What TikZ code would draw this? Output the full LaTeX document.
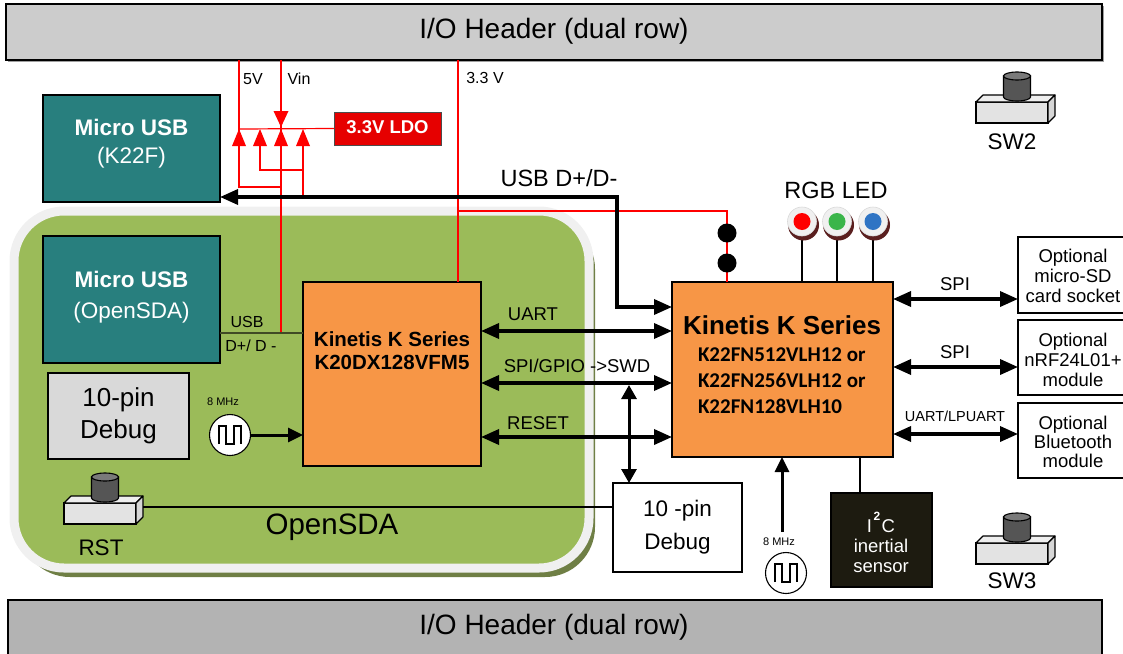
\documentclass[tikz,border=0pt]{standalone}
\usepackage{fontspec}
\setmainfont{Liberation Sans}
\newfontfamily\calfont{Carlito}
\usetikzlibrary{arrows.meta,calc}
\definecolor{hdrtop}{HTML}{CCCCCC}
\definecolor{hdrbot}{HTML}{B3B3B3}
\definecolor{usbteal}{HTML}{287F7E}
\definecolor{sdagreen}{HTML}{9BBB59}
\definecolor{sdashadow}{HTML}{6F7F45}
\definecolor{sdaborder}{HTML}{F0F0F0}
\definecolor{mcuorange}{HTML}{F79646}
\definecolor{ldored}{HTML}{E60000}
\definecolor{debuggray}{HTML}{D9D9D9}
\definecolor{sensorblack}{HTML}{1D1B10}
\definecolor{ledshadow}{HTML}{5A1F1F}
\definecolor{ledface}{HTML}{F0F0F0}
\definecolor{ledred}{HTML}{FF0000}
\definecolor{ledgreen}{HTML}{3AB54A}
\definecolor{ledblue}{HTML}{2F74C4}
\definecolor{usbline}{HTML}{404A25}
\definecolor{pwr}{HTML}{FF0000}
\definecolor{swfront}{HTML}{E3E3E3}
\definecolor{swtop}{HTML}{EEEEEE}
\definecolor{swside}{HTML}{D6D6D6}
\definecolor{capdark}{HTML}{555555}
\definecolor{captop}{HTML}{7A7A7A}
\newcommand\fsz[2]{\fontsize{#1}{#2}\selectfont}
\tikzset{
  pushbtn/.pic={
    \draw[line width=1.1pt, fill=swfront] (0,0) rectangle (72,21);
    \draw[line width=1.1pt, fill=swtop, line join=round] (0,0) -- (7,-7) -- (79,-7) -- (72,0) -- cycle;
    \draw[line width=1.1pt, fill=swside, line join=round] (72,0) -- (79,-7) -- (79,14) -- (72,21) -- cycle;
    \draw[line width=1.1pt, fill=capdark] (27.5,-26) -- (27.5,-5) arc[start angle=180, end angle=360, x radius=13.5pt, y radius=4pt] -- (54.5,-26) -- cycle;
    \draw[line width=1.1pt, fill=captop] (41,-26) ellipse[x radius=13.5pt, y radius=4pt];
  }
}
\begin{document}
\begin{tikzpicture}[x=1pt,y=-1pt,
  box/.style={draw, line width=1.3pt, inner sep=0pt, outer sep=0pt},
  txt/.style={inner sep=0pt, outer sep=0pt, align=center},
  bigarr/.style={line width=3.5pt, {Triangle[length=18pt,width=15pt]}-{Triangle[length=18pt,width=15pt]}},
  onearr/.style={line width=3pt, -{Triangle[length=15pt,width=14pt]}},
  pwrline/.style={draw=pwr, line width=1.2pt},
  osc/.style={draw, circle, line width=1.1pt, minimum size=41pt, inner sep=0pt, outer sep=0pt, fill=white},
  wave/.style={line width=1.1pt}
]
\useasboundingbox (0,0) rectangle (1123,653);

% ---------- headers
\fill[gray!75] (8,6) rectangle (1104,62);
\node[box, fill=hdrtop, minimum width=1096pt, minimum height=56pt] (hdrT) at (554,32) {};
\node[txt, font=\fsz{28}{30}] (hdrTt) at (554,31) {I/O Header (dual row)};
\node[box, fill=hdrbot, minimum width=1094pt, minimum height=60pt] (hdrB) at (555,630) {};
\node[txt, font=\fsz{28}{30}] (hdrBt) at (554,627) {I/O Header (dual row)};

% ---------- OpenSDA region
\fill[sdashadow, rounded corners=50pt] (20,219) rectangle (595,577);
\draw[draw=sdaborder, line width=9pt, fill=sdagreen, rounded corners=50pt] (14,211) rectangle (589,568);
\node[txt, font=\fsz{29.5}{32}] (sdalbl) at (332,527) {OpenSDA};

% ---------- power rails
\coordinate (r5v) at (239,60);
\coordinate (rvin) at (281,60);
\coordinate (r33) at (458,60);
\node[box, fill=ldored, draw=black!70, line width=1pt, minimum width=107pt, minimum height=33pt] (ldo) at (387.5,128.5) {};
\node[txt, font=\fsz{18.5}{20}\bfseries, text=white] (ldot) at (387.5,127.5) {3.3V LDO};
\draw[pwrline] (r5v) -- (239,187) -- (281,187);
\draw[pwrline] (rvin) -- (281,333);
\draw[pwrline] (239,129) -- (ldo.west);
\draw[pwrline] (260,146) -- (260,170) -- (303,170);
\draw[pwrline] (303,146) -- (303,197);
\fill[pwr] (273.5,111) -- (288.5,111) -- (281,127) -- cycle;
\foreach \tx in {239,260,281,303}{
  \fill[pwr] (\tx-7,146) -- (\tx+7,146) -- (\tx,129) -- cycle;
}
\node[txt, font=\fsz{16}{18}] (l5v) at (253,79) {5V};
\node[txt, font=\fsz{16}{18}] (lvin) at (299,79) {Vin};
\node[txt, font=\fsz{16}{18}] (l33) at (485,78) {3.3 V};

% ---------- boxes
\node[box, fill=usbteal, minimum width=177pt, minimum height=107pt] (mu1) at (131.5,148.5) {};
\node[txt, text=white, font=\fsz{22.5}{28}] (mu1t) at (131.5,144) {\bfseries Micro USB\\(K22F)};
\node[box, fill=usbteal, minimum width=177pt, minimum height=127pt] (mu2) at (131.5,299.5) {};
\node[txt, text=white, font=\fsz{22.5}{31}] (mu2t) at (131.5,297) {\bfseries Micro USB\\(OpenSDA)};
\node[box, fill=debuggray, minimum width=141pt, minimum height=86pt] (dbg1) at (118.5,416) {};
\node[txt, font=\fsz{26}{32}] (dbg1t) at (118.5,416) {10-pin\\Debug};
\node[box, fill=mcuorange, minimum width=178pt, minimum height=184pt] (k20) at (392,374) {};
\node[txt, font=\fsz{20.5}{23}\bfseries] (k20t) at (392,351) {Kinetis K Series\\K20DX128VFM5};
\node[box, fill=mcuorange, minimum width=221pt, minimum height=175pt] (k22) at (782.5,369.5) {};
\node[txt, font=\fsz{26}{28}\bfseries] (k22t) at (782,325) {Kinetis K Series};
\node[txt, anchor=west, align=left, font={\calfont\bfseries\fsz{21}{26}}] (k22p) at (698,381) {K22FN512VLH12 or\\K22FN256VLH12 or\\K22FN128VLH10};
\node[box, fill=white, minimum width=129pt, minimum height=89pt] (dbg2) at (677.5,527.5) {};
\node[txt, font=\fsz{22.5}{33}] (dbg2t) at (677.5,527) {10 -pin\\Debug};
\node[box, fill=sensorblack, minimum width=101pt, minimum height=94pt] (imu) at (881.5,540) {};
\node[txt, text=white, font=\fsz{18.5}{20}] (imut) at (881,542) {I\kern1.5pt\raisebox{12pt}{\fsz{12}{12}\bfseries 2}\kern1.5pt C\\inertial\\sensor};
\node[box, fill=white, minimum width=112pt, minimum height=76pt] (opt1) at (1074,275) {};
\node[txt, font=\fsz{18.5}{20}] (opt1t) at (1073,276) {Optional\\micro-SD\\card socket};
\node[box, fill=white, minimum width=112pt, minimum height=75pt] (opt2) at (1074,357.5) {};
\node[txt, font=\fsz{18.5}{20}] (opt2t) at (1073,360) {Optional\\nRF24L01+\\module};
\node[box, fill=white, minimum width=112pt, minimum height=75pt] (opt3) at (1074,440.5) {};
\node[txt, font=\fsz{18.5}{19}] (opt3t) at (1073,442) {Optional\\Bluetooth\\module};

% ---------- oscillators
\node[osc] (osc1) at (230,435) {};
\draw[wave] ($(osc1)+(-11,9)$) -- ++(0,-18) -- ++(7,0) -- ++(0,18) -- ++(8,0) -- ++(0,-18) -- ++(7,0) -- ++(0,18);
\node[txt, font=\fsz{11}{12}] (osc1l) at (223,402) {8 MHz};
\node[osc] (osc2) at (786,573) {};
\draw[wave] ($(osc2)+(-11,9)$) -- ++(0,-18) -- ++(7,0) -- ++(0,18) -- ++(8,0) -- ++(0,-18) -- ++(7,0) -- ++(0,18);
\node[txt, font=\fsz{11}{12}] (osc2l) at (779,542) {8 MHz};
\coordinate (osc2a) at (782,532);

% ---------- switches
\pic at (64,503) {pushbtn};
\pic at (976,102) {pushbtn};
\pic at (976,543) {pushbtn};
\coordinate (rstR) at (143,507);
\node[txt, font=\fsz{22.5}{24}] (rstl) at (101,548) {RST};
\node[txt, font=\fsz{22.5}{24}] (sw2l) at (1012,142) {SW2};
\node[txt, font=\fsz{22.5}{24}] (sw3l) at (1012,581) {SW3};

% ---------- RGB LED
\foreach \lx/\lc/\ln in {802/ledred/ledR, 837/ledgreen/ledG, 873/ledblue/ledB}{
  \draw[line width=1.6pt] (\lx,236) -- (\lx,282);
  \fill[ledshadow] (\lx+1.5,225) circle[radius=15.5pt];
  \node[circle, fill=ledface, draw=white!85!black, line width=0.6pt, minimum size=29pt, inner sep=0pt] (\ln) at (\lx,221.5) {};
  \fill[\lc] (\lx,221.5) circle[radius=8.5pt];
}
\node[txt, font=\fsz{23.5}{25}] (rgbl) at (836,190) {RGB LED};

% ---------- 3.3 V to K20 / K22
\draw[pwrline] (r33) -- (k20.north -| r33);
\draw[pwrline] (458,211) -- (727,211) -- (k22.north -| 727,0);
\fill (727,233) circle[radius=9.5pt];
\fill (727,263) circle[radius=9.5pt];

% ---------- USB D+/D-
\draw[bigarr] (mu1.east |- 0,197) -- (617,197) -- (617,307) -- (k22.west |- 0,307);
\node[txt, font=\fsz{23.5}{25}] (usbl) at (559,178) {USB D+/D-};
\draw[draw=usbline, line width=2pt] (mu2.east |- 0,333) -- (k20.west |- 0,333);
\node[txt, font=\fsz{16}{18}] (usbl2) at (247,322) {USB};
\node[txt, font=\fsz{16}{18}] (usbl3) at (251,346) {D+/ D -};

% ---------- K20 <-> K22
\draw[bigarr] (k20.east |- 0,331) -- (k22.west |- 0,331);
\node[txt, font=\fsz{18.5}{20}] (uartl) at (533,314) {UART};
\draw[bigarr] (k20.east |- 0,383) -- (k22.west |- 0,383);
\node[txt, font=\fsz{18.5}{20}] (swdl) at (577,366) {SPI/GPIO ->SWD};
\draw[bigarr] (k20.east |- 0,437) -- (k22.west |- 0,437);
\node[txt, font=\fsz{18.5}{20}] (rstsl) at (538,423) {RESET};
\draw[line width=3pt, {Triangle[length=14pt,width=15pt]}-{Triangle[length=14pt,width=15pt]}] (629,385) -- (dbg2.north -| 629,0);

% ---------- clocks
\draw[onearr] (osc1.east) -- (k20.west |- osc1.east);
\draw[onearr] (osc2a) -- (k22.south -| osc2a);

% ---------- RST line, sensor line
\draw[line width=1.4pt] (rstR) -- (dbg2.west |- rstR);
\draw[line width=2.5pt] (k22.south -| 860,0) -- (imu.north -| 860,0);

% ---------- right peripherals
\draw[bigarr] (k22.east |- 0,299) -- (opt1.west |- 0,299);
\node[txt, font=\fsz{18.5}{20}] (spi1) at (955,284) {SPI};
\draw[bigarr] (k22.east |- 0,367) -- (opt2.west |- 0,367);
\node[txt, font=\fsz{18.5}{20}] (spi2) at (955,352) {SPI};
\draw[bigarr] (k22.east |- 0,434) -- (opt3.west |- 0,434);
\node[txt, font=\fsz{14.5}{16}] (uartlp) at (955,416) {UART/LPUART};
\end{tikzpicture}
\end{document}
